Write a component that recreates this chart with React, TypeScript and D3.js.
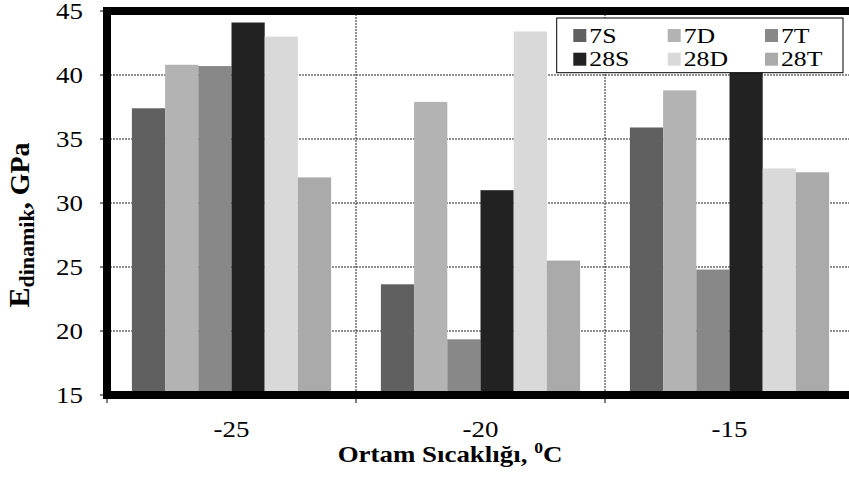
import React from "react";
import * as d3 from "d3";

const categories = ["-25", "-20", "-15"];
const seriesNames = ["7S", "7D", "7T", "28S", "28D", "28T"];
const s7S = [37.4, 23.65, 35.9];
const s7D = [40.8, 37.9, 38.8];
const s7T = [40.7, 19.35, 24.8];
const s28S = [44.1, 31.0, 41.5];
const s28D = [43.0, 43.4, 32.7];
const s28T = [32.0, 25.5, 32.4];
const seriesValues = [s7S, s7D, s7T, s28S, s28D, s28T];
const seriesColors = ["#606060", "#b3b3b3", "#888888", "#222222", "#d9d9d9", "#aaaaaa"];
const yTicks = [15, 20, 25, 30, 35, 40, 45];

const W = 849;
const H = 478;
const SX = 1.17;
const FONT = '"Liberation Serif", "Times New Roman", Times, serif';

export default function App() {
  const x = d3.scaleBand<string>().domain(categories).range([107, 854]).padding(0);
  const xi = d3
    .scaleBand<string>()
    .domain(seriesNames)
    .range([0, x.bandwidth()])
    .paddingInner(0)
    .paddingOuter(0.75);
  const y = d3.scaleLinear().domain([15, 45]).range([395, 11]);
  const left = x.range()[0];
  const right = x.range()[1];

  const legendCols = [573.3, 667.7, 765];
  const legendRows = [29, 52.7];

  return (
    <div style={{ position: "fixed", left: 0, top: 0 }}>
      <svg width={W} height={H} style={{ display: "block", background: "#fff", fontFamily: FONT }}>
        {/* gridlines */}
        {yTicks
          .filter((t) => t > 15 && t < 45)
          .map((t) => (
            <line key={"gy" + t} x1={left} x2={right} y1={y(t)} y2={y(t)} stroke="#222" strokeWidth={1} strokeDasharray="2,1" />
          ))}
        {categories.slice(1).map((c) => (
          <line key={"gx" + c} x1={x(c)!} x2={x(c)!} y1={y(45)} y2={y(15)} stroke="#222" strokeWidth={1} strokeDasharray="2,1" />
        ))}
        {/* bars */}
        {seriesNames.map((s, si) =>
          categories.map((c, ci) => {
            const v = seriesValues[si][ci];
            const bx = x(c)! + xi(s)!;
            return (
              <rect
                key={s + c}
                x={bx}
                y={y(v)}
                width={xi.bandwidth()}
                height={y(15) - y(v)}
                fill={seriesColors[si]}
              />
            );
          })
        )}
        {/* thick frame */}
        <rect x={left - 4} y={y(45) - 4} width={8} height={y(15) - y(45) + 8} fill="#000" />
        <rect x={left - 4} y={y(45) - 4} width={right - left + 20} height={8} fill="#000" />
        <rect x={left - 4} y={y(15) - 4} width={right - left + 20} height={8} fill="#000" />
        {/* y ticks */}
        {yTicks.map((t) => (
          <g key={"yt" + t}>
            <line x1={100} x2={left} y1={y(t)} y2={y(t)} stroke="#000" strokeWidth={1} />
            <text
              transform={`translate(83,${y(t) + 8}) scale(${SX},1)`}
              textAnchor="end"
              fontSize={23}
              fill="#000"
            >
              {t}
            </text>
          </g>
        ))}
        {/* x ticks */}
        {categories.map((c) => (
          <line key={"xt" + c} x1={x(c)!} x2={x(c)!} y1={y(15)} y2={y(15) + 8} stroke="#000" strokeWidth={1} />
        ))}
        {categories.map((c) => (
          <text
            key={"xl" + c}
            transform={`translate(${x(c)! + x.bandwidth() / 2},437) scale(${SX},1)`}
            textAnchor="middle"
            fontSize={23}
            fill="#000"
          >
            {c}
          </text>
        ))}
        {/* x title */}
        <text transform={`translate(450,462) scale(${SX},1)`} textAnchor="middle" fontSize={23} fontWeight="bold" fill="#000">
          Ortam Sıcaklığı,{" "}
          <tspan fontSize={15} dy={-9}>0</tspan>
          <tspan dy={9}>C</tspan>
        </text>
        {/* y title */}
        <text transform="translate(29,225) rotate(-90)" textAnchor="middle" fontSize={28} fontWeight="bold" fill="#000">
          <tspan fontSize={30}>E</tspan>
          <tspan fontSize={22} dy={5}>dinamik</tspan>
          <tspan dy={-5}>, GPa</tspan>
        </text>
        {/* legend */}
        <rect x={556.7} y={18} width={286.3} height={54.7} fill="#fff" stroke="#000" strokeWidth={1} />
        {seriesNames.map((s, i) => {
          const col = i % 3;
          const row = Math.floor(i / 3);
          const sx = legendCols[col];
          const sy = legendRows[row];
          return (
            <g key={"lg" + s}>
              <rect x={sx} y={sy} width={13} height={13} fill={seriesColors[i]} />
              <text
                transform={`translate(${sx + 16},${sy + 13.5}) scale(${SX},1)`}
                fontSize={22}
                fill="#000"
              >
                {s}
              </text>
            </g>
          );
        })}
      </svg>
    </div>
  );
}
